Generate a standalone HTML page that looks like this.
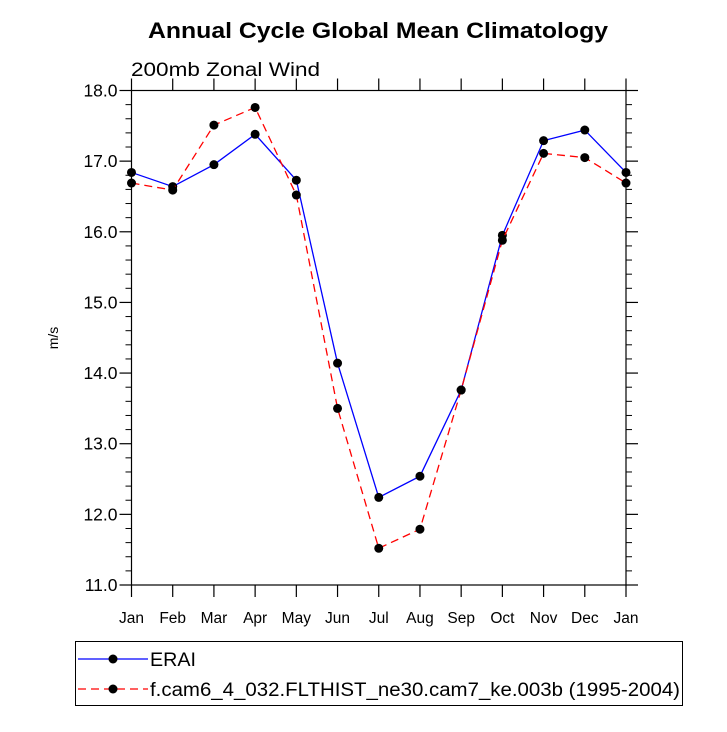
<!DOCTYPE html>
<html><head><meta charset="utf-8"><style>
html,body{margin:0;padding:0;background:#fff;}
svg text{font-family:"Liberation Sans",Arial,sans-serif;}
</style></head><body>
<svg id="chart" width="727" height="727" viewBox="0 0 727 727" xmlns="http://www.w3.org/2000/svg">
<text x="148" y="38" font-size="22" font-weight="bold" textLength="460" lengthAdjust="spacingAndGlyphs">Annual Cycle Global Mean Climatology</text>
<text x="131" y="76" font-size="19" textLength="189" lengthAdjust="spacingAndGlyphs">200mb Zonal Wind</text>
<text transform="translate(58,338) rotate(-90)" text-anchor="middle" font-size="14">m/s</text>
<g id="axes"></g>
<g id="series"></g>
<g>
<rect x="75.5" y="641.5" width="607" height="64" fill="none" stroke="#000" stroke-width="1"/>
<g>
<line x1="78" y1="659" x2="148" y2="659" stroke="#0000ff" stroke-width="1.3"/>
<circle cx="113" cy="659" r="4.5" fill="#000"/>
<text x="150" y="666" font-size="19" textLength="46" lengthAdjust="spacingAndGlyphs">ERAI</text>
</g>
<g>
<line x1="78" y1="689" x2="148" y2="689" stroke="#ff0000" stroke-width="1.3" stroke-dasharray="8,5"/>
<circle cx="113" cy="689" r="4.5" fill="#000"/>
<text x="150" y="696" font-size="19" textLength="530" lengthAdjust="spacingAndGlyphs">f.cam6_4_032.FLTHIST_ne30.cam7_ke.003b (1995-2004)</text>
</g>
</g>
</svg>
<script>
const months = ["Jan","Feb","Mar","Apr","May","Jun","Jul","Aug","Sep","Oct","Nov","Dec","Jan"];
const eraiValues = [16.84,16.64,16.95,17.38,16.73,14.14,12.24,12.54,13.76,15.95,17.29,17.44,16.84];
const modelValues = [16.69,16.59,17.51,17.76,16.52,13.50,11.52,11.79,13.76,15.88,17.11,17.05,16.69];
const yTicks = [11,12,13,14,15,16,17,18];
const yTickLabels = ["11.0","12.0","13.0","14.0","15.0","16.0","17.0","18.0"];

const NS="http://www.w3.org/2000/svg";
const L=131.5,R=626,T=90.5,B=585;
const yMin=11,yMax=18;
const xs=i=>L+(R-L)*i/(months.length-1);
const ys=v=>B-(B-T)*(v-yMin)/(yMax-yMin);
function mk(tag,attrs,parent){const e=document.createElementNS(NS,tag);for(const k in attrs)e.setAttribute(k,attrs[k]);parent.appendChild(e);return e;}
const axes=document.getElementById('axes');
const frame=mk('rect',{x:L,y:T,width:R-L,height:B-T,fill:'none',stroke:'#000','stroke-width':1.2},axes);


yTicks.forEach((v,i)=>{
  const y=ys(v);
  mk('line',{x1:L-12,y1:y,x2:L,y2:y,stroke:'#000','stroke-width':1.2},axes);
  mk('line',{x1:R,y1:y,x2:R+12,y2:y,stroke:'#000','stroke-width':1.2},axes);
  const t=mk('text',{x:L-14,y:y+6,'text-anchor':'end','font-size':17.5},axes);
  t.textContent=yTickLabels[i];
  
  
  if(i<yTicks.length-1){
    for(let k=1;k<5;k++){const ym=ys(v+k*0.2);
      mk('line',{x1:L-6,y1:ym,x2:L,y2:ym,stroke:'#000','stroke-width':1},axes);
      mk('line',{x1:R,y1:ym,x2:R+6,y2:ym,stroke:'#000','stroke-width':1},axes);}
  }
});
months.forEach((m,i)=>{
  const x=xs(i);
  mk('line',{x1:x,y1:B,x2:x,y2:B+12,stroke:'#000','stroke-width':1.2},axes);
  mk('line',{x1:x,y1:T-12,x2:x,y2:T,stroke:'#000','stroke-width':1.2},axes);
  const t=mk('text',{x:x,y:B+38,'text-anchor':'middle','font-size':15.5},axes);
  t.textContent=m;
  
  
});
const series=document.getElementById('series');
function draw(vals,color,dash,name){
  const g=mk('g',{},series);
  
  
  const a={points:vals.map((v,i)=>xs(i)+','+ys(v)).join(' '),fill:'none',stroke:color,'stroke-width':1.3};
  if(dash)a['stroke-dasharray']=dash;
  const pl=mk('polyline',a,g);
  
  
  vals.forEach((v,i)=>{const c=mk('circle',{cx:xs(i),cy:ys(v),r:4.5,fill:'#000'},g);
    
    });
}
draw(eraiValues,'#0000ff',null,'erai-series');
draw(modelValues,'#ff0000','8,5','model-series');
</script>
</body></html>
